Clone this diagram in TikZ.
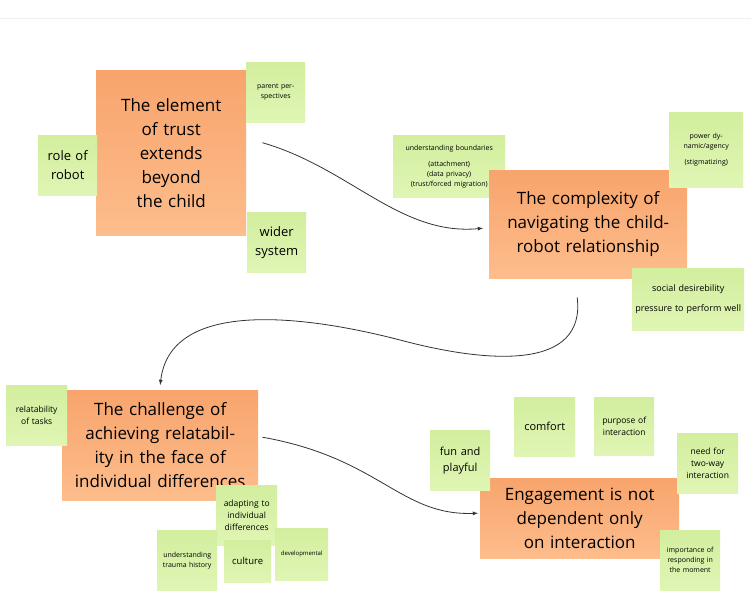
\documentclass[tikz,border=0pt]{standalone}
\usepackage{fontspec}
\setmainfont{Open Sans}
\usepackage{xcolor}
\usetikzlibrary{arrows}
\usetikzlibrary{shapes}

\definecolor{ortop}{HTML}{F8A46C}
\definecolor{orbot}{HTML}{FDBD8C}
\definecolor{grtop}{HTML}{D2EE9E}
\definecolor{grbot}{HTML}{E0F5B4}

\tikzset{
    theme/.style = {anchor = north west, inner sep = 2pt, align = center,
        top color = ortop, bottom color = orbot, draw = none,
        font = \fontsize{17}{24}\selectfont},
    sticky/.style = {anchor = north west, inner sep = 2pt, align = center,
        top color = grtop, bottom color = grbot, draw = none,
        drop shadow/.try, font = \fontsize{7}{10}\selectfont},
    link/.style = {draw = black!80, -latex, thick}
}

\begin{document}
\begin{tikzpicture}[x = 1pt, y = -1pt]
        \useasboundingbox[fill = white] (0, 0) rectangle (751, 599);
        \draw[black!6] (0, 18) -- (751, 18);

        % top left cluster
        \node[theme, minimum width = 150, minimum height = 165, text width = 120] (trust)
            at (96, 70) {The element of trust extends beyond the child};
        \node[sticky, minimum width = 59, minimum height = 60, text width = 55] (parents)
            at (246, 62) {parent perspectives};
        \node[sticky, minimum width = 59, minimum height = 60, text width = 55,
            font = \fontsize{13}{19}\selectfont] (role) at (38, 135) {role of robot};
        \node[sticky, minimum width = 59, minimum height = 60, text width = 55,
            font = \fontsize{13}{19}\selectfont] (wider) at (247, 212) {wider system};

        % top right cluster
        \node[sticky, minimum width = 112, minimum height = 62, text width = 108] (bounds)
            at (393, 135) {understanding boundaries\\[6pt](attachment)\\(data privacy)\\(trust/forced migration)};
        \node[theme, minimum width = 198, minimum height = 108, text width = 190] (complex)
            at (489, 170) {The complexity of navigating the child-robot relationship};
        \node[sticky, minimum width = 74, minimum height = 75, text width = 70] (power)
            at (669, 112) {power dynamic/agency\\[6pt](stigmatizing)};
        \node[sticky, minimum width = 112, minimum height = 62, text width = 108,
            font = \fontsize{9}{13}\selectfont] (social)
            at (632, 268) {social desirebility\\[7pt]pressure to perform well};

        % bottom left cluster
        \node[theme, minimum width = 196, minimum height = 110, text width = 190] (relate)
            at (62, 390) {The challenge of achieving relatability in the face of individual differences};
        \node[sticky, minimum width = 59, minimum height = 60, text width = 57,
            font = \fontsize{8.5}{12}\selectfont] (tasks) at (6, 385) {relatability of tasks};
        \node[sticky, minimum width = 59, minimum height = 60, text width = 57,
            font = \fontsize{8.5}{12}\selectfont] (adapt) at (216, 485) {adapting to individual differences};
        \node[sticky, minimum width = 60, minimum height = 60, text width = 56] (trauma)
            at (157, 530) {understanding trauma history};
        \node[sticky, minimum width = 45, minimum height = 42, text width = 43,
            font = \fontsize{9.5}{13}\selectfont] (culture) at (224, 540) {culture};
        \node[sticky, minimum width = 51, minimum height = 52, text width = 49,
            font = \fontsize{6}{9}\selectfont] (devel) at (275, 528) {developmental};

        % bottom right cluster
        \node[theme, minimum width = 199, minimum height = 80, text width = 195] (engage)
            at (480, 478) {Engagement is not dependent only on interaction};
        \node[sticky, minimum width = 58, minimum height = 60, text width = 56,
            font = \fontsize{11}{16}\selectfont] (fun) at (430, 430) {fun and playful};
        \node[sticky, minimum width = 59, minimum height = 59, text width = 57,
            font = \fontsize{11}{16}\selectfont] (comfort) at (514, 397) {comfort};
        \node[sticky, minimum width = 60, minimum height = 58, text width = 56,
            font = \fontsize{8.5}{12}\selectfont] (purpose) at (594, 397) {purpose of interaction};
        \node[sticky, minimum width = 59, minimum height = 60, text width = 57,
            font = \fontsize{8.5}{12}\selectfont] (twoway) at (677, 433) {need for two-way interaction};
        \node[sticky, minimum width = 58, minimum height = 60, text width = 56] (moment)
            at (660, 530) {importance of responding in the moment};

        % connectors
        \coordinate (a1) at ([shift = {(16, -10)}]trust.east);
        \coordinate (a2) at ([shift = {(-6, 4)}]complex.west);
        \coordinate (b1) at ([shift = {(-11, 19)}]complex.south);
        \coordinate (b2) at ([shift = {(0, -5)}]relate.north);
        \coordinate (c1) at ([shift = {(4, -8)}]relate.east);
        \coordinate (c2) at ([shift = {(-2, -5)}]engage.west);
        \draw[link] (a1) .. controls (350, 168) and (400, 236) .. (a2);
        \draw[link] (b1) .. controls (586, 370) and (490, 364) .. (400, 340)
            .. controls (300, 314) and (170, 300) .. (b2);
        \draw[link] (c1) .. controls (380, 458) and (400, 516) .. (c2);
    \end{tikzpicture}
\end{document}
